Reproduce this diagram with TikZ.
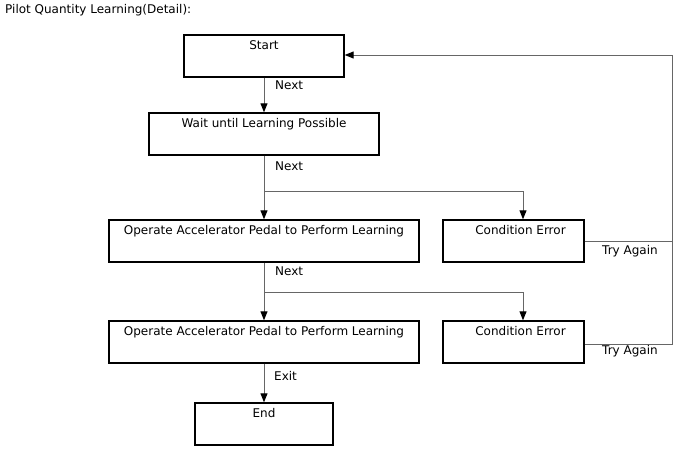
\documentclass[tikz,border=0pt]{standalone}
\usepackage{fontspec}
\setmainfont{DejaVu Sans}
\usetikzlibrary{arrows.meta}
\begin{document}
\begin{tikzpicture}[x=1pt,y=-1pt,font=\fontsize{12}{14}\selectfont,
  box/.style={draw=black,line width=1.4pt,rectangle,inner sep=0pt,text height=14.5pt,text depth=27.5pt,minimum height=42pt},
  conn/.style={draw=black!60,line width=1pt},
  arr/.style={conn,-{Triangle[length=9pt,width=7pt,fill=black,color=black]}},
  lbl/.style={anchor=base west,inner sep=0pt}]
\useasboundingbox (0,0) rectangle (688,463);
\node[lbl] (title) at (5,13.5) {Pilot Quantity Learning(Detail):};
\node[box,minimum width=160pt] (start) at (264,56) {Start};
\node[box,minimum width=230pt] (wait) at (264,134) {Wait until Learning Possible};
\node[box,minimum width=310pt] (op1) at (264,241) {Operate Accelerator Pedal to Perform Learning};
\node[box,minimum width=310pt] (op2) at (264,342) {Operate Accelerator Pedal to Perform Learning};
\node[box,minimum width=141pt] (ce1) at (513.5,241) {\hspace*{14pt}Condition Error};
\node[box,minimum width=141pt] (ce2) at (513.5,342) {\hspace*{14pt}Condition Error};
\node[box,minimum width=138pt] (end) at (264,424) {End};
\coordinate (b1) at (264,191);
\coordinate (b2) at (264,292);
\coordinate (rt) at (672,55);
\draw[arr] (start) -- (wait);
\draw[arr] (wait) -- (op1);
\draw[arr] (b1) -| ([xshift=9.5pt]ce1.north);
\draw[arr] (op1) -- (op2);
\draw[arr] (b2) -| ([xshift=9.5pt]ce2.north);
\draw[arr] (op2) -- (end);
\draw[arr] (ce1.east) -| (rt) -- (start.east |- rt);
\draw[conn] ([yshift=-2pt]ce2.east) -| (ce1.east -| rt);
\node[lbl] (n1) at (275,89) {Next};
\node[lbl] (n2) at (275,170.5) {Next};
\node[lbl] (n3) at (275,275) {Next};
\node[lbl] (ex) at (274,380) {Exit};
\node[lbl] (t1) at (602,254) {Try Again};
\node[lbl] (t2) at (602,354) {Try Again};
\end{tikzpicture}
\end{document}
